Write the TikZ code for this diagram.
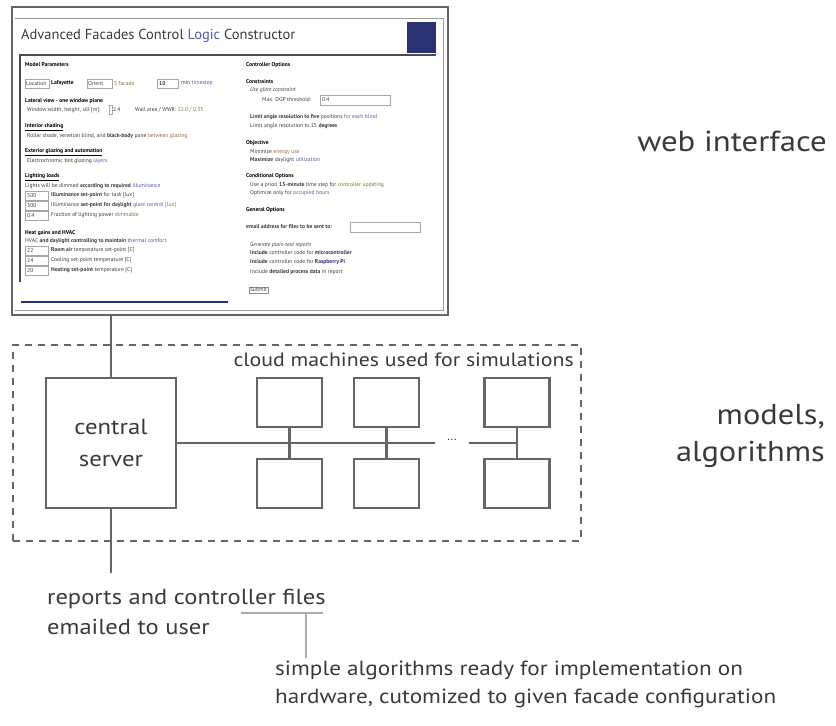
\documentclass[tikz,border=0pt]{standalone}
\usepackage{fontspec}
\setmainfont{PT Sans}
\newfontfamily\lblfont{PT Sans}[FakeStretch=1.13]
\definecolor{ln}{HTML}{666666}
\definecolor{txt}{HTML}{3A3A3A}
\definecolor{navy}{HTML}{2A3170}
\definecolor{lgray}{HTML}{AAAAAA}
\definecolor{lk}{HTML}{4A5BA8}
\definecolor{br}{HTML}{8A6A3A}
\newcount\wcnt
\newcommand\wtxt[3]{\global\advance\wcnt by 1\relax
  \node[wt] (w\the\wcnt) at (#1,#2) {#3};}
\newcommand\wbox[4]{\draw[inbox] (#1,#2) rectangle (#3,#4);}
\begin{document}
\begin{tikzpicture}[x=1pt,y=-1pt,
  conn/.style={draw=ln, line width=2.6pt},
  mbox/.style={draw=ln, line width=2.6pt, minimum width=65pt, minimum height=49pt, inner sep=0pt},
  lbl/.style={text=txt, inner sep=0pt},
  wt/.style={anchor=west, inner sep=0pt, text=txt, font=\fontsize{5.6}{6}\selectfont},
  wh/.style={anchor=west, inner sep=0pt, text=black, font=\bfseries\fontsize{5.6}{6}\selectfont},
  inbox/.style={draw=black!35, line width=0.5pt}]
\useasboundingbox (0,0) rectangle (836,726);
% ---------------- web interface screenshot ----------------
\node[draw=ln, line width=2.4pt, minimum width=436pt, minimum height=308pt, inner sep=0pt] (web) at (230,161) {};
\draw[black!40, line width=0.6pt] (15,18) -- (443,18) -- (443,310) -- (15,310);
\node[anchor=west, inner sep=0pt, text=txt, font=\fontsize{14.5}{16}\selectfont] (title) at (21,36)
  {Advanced Facades Control \textcolor{lk}{Logic} Constructor};
\node[fill=navy, minimum width=29pt, minimum height=31pt, inner sep=0pt] (logo) at (421.5,37.5) {};
\draw[black!70, line width=1.6pt] (19,55) -- (436,55);
\draw[black!70, line width=1.3pt] (20,55) -- (20,282);
\draw[navy, line width=1.3pt] (21,302) -- (228,302);
% left column
\node[wh] (h1) at (25,65) {Model Parameters};
\wbox{25}{79}{49}{88}\wtxt{26}{83.5}{Location}\node[wh] (h1a) at (51,83.5) {Lafayette};
\wbox{87}{79}{112}{88}\wtxt{88}{83.5}{Orient.}\wtxt{114}{83.5}{\textcolor{br}{S facade}}
\wbox{157}{79}{178}{88}\wtxt{159}{83.5}{\textbf{10}}\wtxt{181}{83.5}{min \textcolor{lk}{timestep}}
\node[wh] (h2) at (25,101) {Lateral view - one window plane};
\wtxt{27}{110}{Window width, height, sill [m]:}\wbox{109}{105}{112}{114}\wtxt{113}{110}{2.4}
\wtxt{135}{110}{Wall area / WWR: \textcolor{br}{12.0 / 0.35}}
\node[wh] (h3) at (25,127) {\underline{Interior shading}};
\wtxt{27}{136}{Roller shade, venetian blind, and \textbf{black-body} pane \textcolor{br}{between glazing}}
\node[wh] (h4) at (25,152) {\underline{Exterior glazing and automation}};
\wtxt{27}{161}{Electrochromic \textbf{\textcolor{br}{tint}} glazing \textcolor{lk}{layers}}
\node[wh] (h5) at (25,177) {\underline{Lighting loads}};
\wtxt{25}{186}{Lights will be dimmed \textbf{according to required} \textcolor{lk}{illuminance}}
\wbox{25}{191}{48}{200}\wtxt{27}{195.5}{500}\wtxt{51}{195.5}{\textbf{Illuminance set-point} for task [lux]}
\wbox{25}{201}{48}{210}\wtxt{27}{205.5}{300}\wtxt{51}{205.5}{Illuminance \textbf{set-point for daylight} \textcolor{lk}{glare control} \textcolor{br}{[lux]}}
\wbox{25}{211}{48}{220}\wtxt{27}{215.5}{0.4}\wtxt{51}{215.5}{Fraction of lighting power \textcolor{br}{dimmable}}
\node[wh] (h6) at (25,233) {Heat gains and HVAC};
\wtxt{25}{241}{HVAC \textbf{and daylight controlling to maintain} \textcolor{lk}{thermal comfort}}
\wbox{25}{246}{48}{255}\wtxt{27}{250.5}{22}\wtxt{51}{250.5}{\textbf{Room air} temperature set-point [C]}
\wbox{25}{256}{48}{265}\wtxt{27}{260.5}{24}\wtxt{51}{260.5}{Cooling set-point temperature [C]}
\wbox{25}{266}{48}{275}\wtxt{27}{270.5}{20}\wtxt{51}{270.5}{\textbf{Heating set-point} temperature [C]}
% right column
\node[wh] (h7) at (246,65) {Controller Options};
\node[wh] (h8) at (246,82) {Constraints};
\wtxt{250}{90}{\textit{Use glare constraint}}
\wtxt{262}{100}{Max. DGP threshold:}\wbox{320}{95}{390}{105}\wtxt{322}{100}{0.4}
\wtxt{250}{117}{\textbf{Limit angle resolution to five} positions \textcolor{lk}{for each blind}}
\wtxt{250}{126}{Limit angle resolution to 15 \textbf{degrees}}
\node[wh] (h9) at (246,143) {Objective};
\wtxt{250}{152}{Minimize \textcolor{br}{energy use}}
\wtxt{250}{160}{\textbf{Maximize} daylight \textcolor{lk}{utilization}}
\node[wh] (h10) at (246,176) {Conditional Options};
\wtxt{250}{185}{Use a priori \textbf{15-minute} time step for \textcolor{br}{controller updating}}
\wtxt{250}{193}{Optimize only for \textcolor{lk}{occupied hours}}
\node[wh] (h11) at (246,210) {General Options};
\wtxt{246}{227}{\textbf{email address for files to be sent to:}}\wbox{350}{222}{420}{232}
\wtxt{250}{245}{\textit{Generate plain-text reports}}
\wtxt{250}{253}{\textbf{Include} controller code for \textbf{\textcolor{navy}{microcontroller}}}
\wtxt{250}{262}{\textbf{Include} controller code for \textbf{\textcolor{navy}{Raspberry Pi}}}
\wtxt{250}{272}{Include \textbf{detailed process data} in report}
\node[draw=black!45, line width=0.5pt, inner sep=1.2pt, text=txt, font=\fontsize{5.6}{6}\selectfont] (submit) at (258.5,290) {Submit};
% ---------------- models / algorithms ----------------
\node[draw=ln, line width=2.6pt, dash pattern=on 7pt off 6pt, minimum width=568pt, minimum height=196pt, inner sep=0pt] (cloud) at (297,443) {};
\node[lbl, anchor=east, font=\lblfont\fontsize{19.3}{28}\selectfont] (cloudlbl) at (574,360) {cloud machines used for simulations};
\node[mbox, minimum width=130pt, minimum height=130pt, align=center, text=txt, font=\lblfont\fontsize{21.9}{32}\selectfont] (server) at (111,443) {central\\server};
\node[mbox] (m1t) at (289.5,402.5) {};
\node[mbox] (m1b) at (289.5,483.5) {};
\node[mbox] (m2t) at (386.5,402.5) {};
\node[mbox] (m2b) at (386.5,483.5) {};
\node[mbox] (m3t) at (517,402.5) {};
\node[mbox] (m3b) at (517,483.5) {};
\node[text=txt, inner sep=0pt, font=\fontsize{12}{12}\selectfont] (dots) at (452,440) {...};
\coordinate (gapL) at (435,443);
\coordinate (gapR) at (469,443);
\draw[conn] (server.east) -- (gapL);
\draw[conn] (gapR) -- (m3t.south |- server.east);
\draw[conn] (m1t.south) -- (m1b.north);
\draw[conn] (m2t.south) -- (m2b.north);
\draw[conn] (m3t.south) -- (m3b.north);
\draw[conn] (web.south -| server.north) -- (server.north);
\coordinate (outend) at (111,573);
\draw[conn] (server.south) -- (outend);
% ---------------- right labels ----------------
\node[lbl, anchor=east, font=\lblfont\fontsize{29}{36}\selectfont] (weblbl) at (827,141) {web interface};
\node[lbl, anchor=east, align=right, font=\lblfont\fontsize{28.7}{37}\selectfont] (modlbl) at (825,436) {models,\\algorithms};
% ---------------- bottom labels ----------------
\node[lbl, anchor=north west, align=left, font=\lblfont\fontsize{21.7}{30}\selectfont] (reports) at (47,589) {reports and controller files\\emailed to user};
\coordinate (ulL) at (241,613);
\coordinate (ulR) at (323,613);
\coordinate (ulM) at (306,613);
\coordinate (ulE) at (306,658);
\draw[lgray, line width=2.2pt] (ulL) -- (ulR);
\draw[lgray, line width=2.2pt] (ulM) -- (ulE);
\node[lbl, anchor=north west, align=left, font=\lblfont\fontsize{20.5}{28}\selectfont] (simple) at (275,661) {simple algorithms ready for implementation on\\hardware, cutomized to given facade configuration};
\end{tikzpicture}
\end{document}
